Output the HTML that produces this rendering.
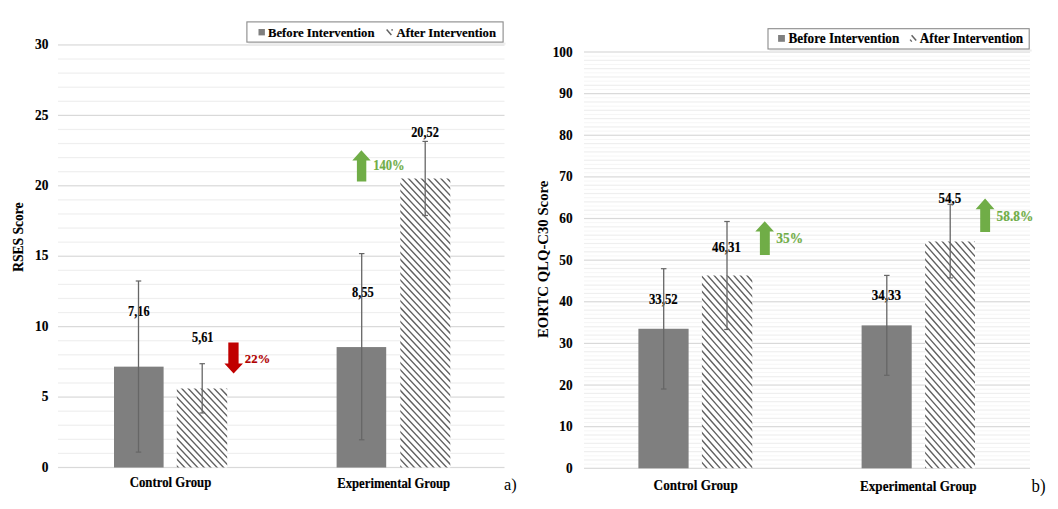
<!DOCTYPE html>
<html><head><meta charset="utf-8"><style>
html,body{margin:0;padding:0;background:#fff;width:1058px;height:509px;overflow:hidden;position:relative}
</style></head><body>
<svg width="1058" height="509" viewBox="0 0 1058 509" style="position:absolute;left:0;top:0">
<defs>
<clipPath id="c0"><rect x="176.8" y="388.48" width="50.4" height="79.02"/></clipPath>
<clipPath id="c1"><rect x="400.3" y="178.48" width="50" height="289.02"/></clipPath>
<clipPath id="c2"><rect x="701.9" y="275.51" width="50.4" height="192.79"/></clipPath>
<clipPath id="c3"><rect x="925.1" y="241.42" width="49.9" height="226.88"/></clipPath>
</defs>
<rect width="1058" height="509" fill="#fff"/>
<g font-family="&quot;Liberation Serif&quot;, serif">
<rect x="58" y="466.9" width="446.5" height="1.2" fill="#d9d9d9"/>
<rect x="58" y="452.81" width="446.5" height="1.2" fill="#efefef"/>
<rect x="58" y="438.73" width="446.5" height="1.2" fill="#efefef"/>
<rect x="58" y="424.64" width="446.5" height="1.2" fill="#efefef"/>
<rect x="58" y="410.56" width="446.5" height="1.2" fill="#efefef"/>
<rect x="58" y="396.47" width="446.5" height="1.2" fill="#d9d9d9"/>
<rect x="58" y="382.39" width="446.5" height="1.2" fill="#efefef"/>
<rect x="58" y="368.3" width="446.5" height="1.2" fill="#efefef"/>
<rect x="58" y="354.22" width="446.5" height="1.2" fill="#efefef"/>
<rect x="58" y="340.13" width="446.5" height="1.2" fill="#efefef"/>
<rect x="58" y="326.05" width="446.5" height="1.2" fill="#d9d9d9"/>
<rect x="58" y="311.96" width="446.5" height="1.2" fill="#efefef"/>
<rect x="58" y="297.88" width="446.5" height="1.2" fill="#efefef"/>
<rect x="58" y="283.79" width="446.5" height="1.2" fill="#efefef"/>
<rect x="58" y="269.71" width="446.5" height="1.2" fill="#efefef"/>
<rect x="58" y="255.63" width="446.5" height="1.2" fill="#d9d9d9"/>
<rect x="58" y="241.54" width="446.5" height="1.2" fill="#efefef"/>
<rect x="58" y="227.45" width="446.5" height="1.2" fill="#efefef"/>
<rect x="58" y="213.37" width="446.5" height="1.2" fill="#efefef"/>
<rect x="58" y="199.28" width="446.5" height="1.2" fill="#efefef"/>
<rect x="58" y="185.2" width="446.5" height="1.2" fill="#d9d9d9"/>
<rect x="58" y="171.11" width="446.5" height="1.2" fill="#efefef"/>
<rect x="58" y="157.03" width="446.5" height="1.2" fill="#efefef"/>
<rect x="58" y="142.94" width="446.5" height="1.2" fill="#efefef"/>
<rect x="58" y="128.86" width="446.5" height="1.2" fill="#efefef"/>
<rect x="58" y="114.78" width="446.5" height="1.2" fill="#d9d9d9"/>
<rect x="58" y="100.69" width="446.5" height="1.2" fill="#efefef"/>
<rect x="58" y="86.6" width="446.5" height="1.2" fill="#efefef"/>
<rect x="58" y="72.52" width="446.5" height="1.2" fill="#efefef"/>
<rect x="58" y="58.43" width="446.5" height="1.2" fill="#efefef"/>
<rect x="58" y="44.35" width="446.5" height="1.2" fill="#d9d9d9"/>
<text transform="translate(48.4,471.7) scale(1,1.07)" font-size="13.4" text-anchor="end" fill="#000" font-weight="bold" stroke="#000" stroke-width="0.15" >0</text>
<text transform="translate(48.4,401.27) scale(1,1.07)" font-size="13.4" text-anchor="end" fill="#000" font-weight="bold" stroke="#000" stroke-width="0.15" >5</text>
<text transform="translate(48.4,330.85) scale(1,1.07)" font-size="13.4" text-anchor="end" fill="#000" font-weight="bold" stroke="#000" stroke-width="0.15" >10</text>
<text transform="translate(48.4,260.43) scale(1,1.07)" font-size="13.4" text-anchor="end" fill="#000" font-weight="bold" stroke="#000" stroke-width="0.15" >15</text>
<text transform="translate(48.4,190) scale(1,1.07)" font-size="13.4" text-anchor="end" fill="#000" font-weight="bold" stroke="#000" stroke-width="0.15" >20</text>
<text transform="translate(48.4,119.58) scale(1,1.07)" font-size="13.4" text-anchor="end" fill="#000" font-weight="bold" stroke="#000" stroke-width="0.15" >25</text>
<text transform="translate(48.4,49.15) scale(1,1.07)" font-size="13.4" text-anchor="end" fill="#000" font-weight="bold" stroke="#000" stroke-width="0.15" >30</text>
<rect x="114" y="366.65" width="49.6" height="100.85" fill="#7f7f7f"/>
<rect x="176.8" y="388.48" width="50.4" height="79.02" fill="#fff"/>
<path clip-path="url(#c0)" d="M92.87 383.48L176.46 472.50M99.34 383.48L182.93 472.50M105.82 383.48L189.41 472.50M112.29 383.48L195.88 472.50M118.77 383.48L202.36 472.50M125.24 383.48L208.83 472.50M131.72 383.48L215.31 472.50M138.19 383.48L221.78 472.50M144.67 383.48L228.26 472.50M151.14 383.48L234.73 472.50M157.62 383.48L241.21 472.50M164.09 383.48L247.68 472.50M170.57 383.48L254.16 472.50M177.04 383.48L260.63 472.50M183.52 383.48L267.11 472.50M189.99 383.48L273.58 472.50M196.47 383.48L280.06 472.50M202.94 383.48L286.53 472.50M209.42 383.48L293.01 472.50M215.89 383.48L299.48 472.50M222.37 383.48L305.96 472.50M228.84 383.48L312.43 472.50" stroke="#626262" stroke-width="1.4" fill="none"/>
<rect x="336.6" y="347.07" width="49.6" height="120.43" fill="#7f7f7f"/>
<rect x="400.3" y="178.48" width="50" height="289.02" fill="#fff"/>
<path clip-path="url(#c1)" d="M118.86 173.48L399.66 472.50M125.33 173.48L406.13 472.50M131.81 173.48L412.61 472.50M138.28 173.48L419.08 472.50M144.76 173.48L425.56 472.50M151.23 173.48L432.03 472.50M157.71 173.48L438.51 472.50M164.18 173.48L444.98 472.50M170.66 173.48L451.46 472.50M177.13 173.48L457.93 472.50M183.61 173.48L464.41 472.50M190.08 173.48L470.88 472.50M196.56 173.48L477.36 472.50M203.03 173.48L483.83 472.50M209.51 173.48L490.31 472.50M215.98 173.48L496.78 472.50M222.46 173.48L503.26 472.50M228.93 173.48L509.73 472.50M235.41 173.48L516.21 472.50M241.88 173.48L522.68 472.50M248.36 173.48L529.16 472.50M254.83 173.48L535.63 472.50M261.30 173.48L542.11 472.50M267.78 173.48L548.58 472.50M274.25 173.48L555.06 472.50M280.73 173.48L561.53 472.50M287.20 173.48L568.01 472.50M293.68 173.48L574.48 472.50M300.15 173.48L580.96 472.50M306.63 173.48L587.43 472.50M313.10 173.48L593.91 472.50M319.58 173.48L600.38 472.50M326.05 173.48L606.86 472.50M332.53 173.48L613.33 472.50M339.00 173.48L619.81 472.50M345.48 173.48L626.28 472.50M351.95 173.48L632.76 472.50M358.43 173.48L639.23 472.50M364.90 173.48L645.71 472.50M371.38 173.48L652.18 472.50M377.85 173.48L658.66 472.50M384.33 173.48L665.13 472.50M390.80 173.48L671.61 472.50M397.28 173.48L678.08 472.50M403.75 173.48L684.56 472.50M410.23 173.48L691.03 472.50M416.70 173.48L697.50 472.50M423.18 173.48L703.98 472.50M429.65 173.48L710.45 472.50M436.13 173.48L716.93 472.50M442.60 173.48L723.40 472.50M449.08 173.48L729.88 472.50" stroke="#626262" stroke-width="1.4" fill="none"/>
<text transform="translate(138.8,315.7) scale(1,1.12)" font-size="12.3" text-anchor="middle" fill="#000" font-weight="bold" stroke="#000" stroke-width="0.15" >7,16</text>
<text transform="translate(202.75,341.6) scale(1,1.12)" font-size="12.3" text-anchor="middle" fill="#000" font-weight="bold" stroke="#000" stroke-width="0.15" >5,61</text>
<text transform="translate(362.85,297.3) scale(1,1.12)" font-size="12.5" text-anchor="middle" fill="#000" font-weight="bold" stroke="#000" stroke-width="0.15" >8,55</text>
<text transform="translate(425,136.6) scale(1,1.12)" font-size="12.3" text-anchor="middle" fill="#000" font-weight="bold" stroke="#000" stroke-width="0.15" >20,52</text>
<polygon points="233.6,373.6 243,363.6 238.6,363.6 238.6,342.4 228.3,342.4 228.3,363.6 224.4,363.6" fill="#c00000"/>
<text transform="translate(244.8,363.2) scale(1,1.02)" font-size="12.8" text-anchor="start" fill="#b00000" font-weight="bold" stroke="#b00000" stroke-width="0.15" >22%</text>
<polygon points="361.4,150.3 370.7,160.4 366.3,160.4 366.3,181.5 356.9,181.5 356.9,160.4 352.3,160.4" fill="#70ad47"/>
<text transform="translate(373.2,170.3) scale(1,1.12)" font-size="12.6" text-anchor="start" fill="#70ad47" font-weight="bold" stroke="#70ad47" stroke-width="0.15" >140%</text>
<text transform="translate(170.5,487.1) scale(1,1.12)" font-size="12.8" text-anchor="middle" fill="#000" font-weight="bold" stroke="#000" stroke-width="0.15" >Control Group</text>
<text transform="translate(393.7,487.7) scale(1,1.12)" font-size="12.7" text-anchor="middle" fill="#000" font-weight="bold" stroke="#000" stroke-width="0.15" >Experimental Group</text>
<text x="0" y="0" font-size="16.3" font-weight="normal" text-anchor="start" transform="translate(503.9,489.8)">a)</text>
<text x="0" y="0" font-size="13.5" font-weight="bold" text-anchor="middle" stroke="#000" stroke-width="0.15" transform="translate(23,237.1) rotate(-90) scale(1,1.07)">RSES Score</text>
<rect x="248.4" y="42.6" width="257.2" height="2" fill="#eeeeee"/>
<rect x="246.9" y="21.9" width="256.2" height="20.2" fill="#fff" stroke="#8a8a8a" stroke-width="1.1"/>
<rect x="258.5" y="29" width="6.4" height="6.4" fill="#7f7f7f"/>
<text transform="translate(268,36.8) scale(1,1.04)" font-size="12.7" text-anchor="start" fill="#000" font-weight="bold" stroke="#000" stroke-width="0.15" >Before Intervention</text>
<line x1="386.6" y1="29.6" x2="391.4" y2="35" stroke="#626262" stroke-width="1.5"/><rect x="391.3" y="29.2" width="1.6" height="1.4" fill="#626262"/>
<text transform="translate(396.5,36.8) scale(1,1.04)" font-size="12.7" text-anchor="start" fill="#000" font-weight="bold" stroke="#000" stroke-width="0.15" >After Intervention</text>
<rect x="584" y="463.64" width="446" height="1" fill="#f6f6f6"/>
<rect x="584" y="455.31" width="446" height="1" fill="#f6f6f6"/>
<rect x="584" y="446.99" width="446" height="1" fill="#f6f6f6"/>
<rect x="584" y="438.66" width="446" height="1" fill="#f6f6f6"/>
<rect x="584" y="430.33" width="446" height="1" fill="#f6f6f6"/>
<rect x="584" y="422.01" width="446" height="1" fill="#f6f6f6"/>
<rect x="584" y="413.68" width="446" height="1" fill="#f6f6f6"/>
<rect x="584" y="405.36" width="446" height="1" fill="#f6f6f6"/>
<rect x="584" y="397.03" width="446" height="1" fill="#f6f6f6"/>
<rect x="584" y="388.7" width="446" height="1" fill="#f6f6f6"/>
<rect x="584" y="380.38" width="446" height="1" fill="#f6f6f6"/>
<rect x="584" y="372.05" width="446" height="1" fill="#f6f6f6"/>
<rect x="584" y="363.73" width="446" height="1" fill="#f6f6f6"/>
<rect x="584" y="355.4" width="446" height="1" fill="#f6f6f6"/>
<rect x="584" y="347.07" width="446" height="1" fill="#f6f6f6"/>
<rect x="584" y="338.75" width="446" height="1" fill="#f6f6f6"/>
<rect x="584" y="330.42" width="446" height="1" fill="#f6f6f6"/>
<rect x="584" y="322.1" width="446" height="1" fill="#f6f6f6"/>
<rect x="584" y="313.77" width="446" height="1" fill="#f6f6f6"/>
<rect x="584" y="305.44" width="446" height="1" fill="#f6f6f6"/>
<rect x="584" y="297.12" width="446" height="1" fill="#f6f6f6"/>
<rect x="584" y="288.79" width="446" height="1" fill="#f6f6f6"/>
<rect x="584" y="280.47" width="446" height="1" fill="#f6f6f6"/>
<rect x="584" y="272.14" width="446" height="1" fill="#f6f6f6"/>
<rect x="584" y="263.81" width="446" height="1" fill="#f6f6f6"/>
<rect x="584" y="255.49" width="446" height="1" fill="#f6f6f6"/>
<rect x="584" y="247.16" width="446" height="1" fill="#f6f6f6"/>
<rect x="584" y="238.84" width="446" height="1" fill="#f6f6f6"/>
<rect x="584" y="230.51" width="446" height="1" fill="#f6f6f6"/>
<rect x="584" y="222.18" width="446" height="1" fill="#f6f6f6"/>
<rect x="584" y="213.86" width="446" height="1" fill="#f6f6f6"/>
<rect x="584" y="205.53" width="446" height="1" fill="#f6f6f6"/>
<rect x="584" y="197.2" width="446" height="1" fill="#f6f6f6"/>
<rect x="584" y="188.88" width="446" height="1" fill="#f6f6f6"/>
<rect x="584" y="180.55" width="446" height="1" fill="#f6f6f6"/>
<rect x="584" y="172.23" width="446" height="1" fill="#f6f6f6"/>
<rect x="584" y="163.9" width="446" height="1" fill="#f6f6f6"/>
<rect x="584" y="155.57" width="446" height="1" fill="#f6f6f6"/>
<rect x="584" y="147.25" width="446" height="1" fill="#f6f6f6"/>
<rect x="584" y="138.92" width="446" height="1" fill="#f6f6f6"/>
<rect x="584" y="130.6" width="446" height="1" fill="#f6f6f6"/>
<rect x="584" y="122.27" width="446" height="1" fill="#f6f6f6"/>
<rect x="584" y="113.94" width="446" height="1" fill="#f6f6f6"/>
<rect x="584" y="105.62" width="446" height="1" fill="#f6f6f6"/>
<rect x="584" y="97.29" width="446" height="1" fill="#f6f6f6"/>
<rect x="584" y="88.97" width="446" height="1" fill="#f6f6f6"/>
<rect x="584" y="80.64" width="446" height="1" fill="#f6f6f6"/>
<rect x="584" y="72.31" width="446" height="1" fill="#f6f6f6"/>
<rect x="584" y="63.99" width="446" height="1" fill="#f6f6f6"/>
<rect x="584" y="55.66" width="446" height="1" fill="#f6f6f6"/>
<rect x="584" y="467.7" width="446" height="1.2" fill="#d9d9d9"/>
<rect x="584" y="459.37" width="446" height="1.2" fill="#efefef"/>
<rect x="584" y="451.05" width="446" height="1.2" fill="#efefef"/>
<rect x="584" y="442.72" width="446" height="1.2" fill="#efefef"/>
<rect x="584" y="434.4" width="446" height="1.2" fill="#efefef"/>
<rect x="584" y="426.07" width="446" height="1.2" fill="#d9d9d9"/>
<rect x="584" y="417.74" width="446" height="1.2" fill="#efefef"/>
<rect x="584" y="409.42" width="446" height="1.2" fill="#efefef"/>
<rect x="584" y="401.09" width="446" height="1.2" fill="#efefef"/>
<rect x="584" y="392.77" width="446" height="1.2" fill="#efefef"/>
<rect x="584" y="384.44" width="446" height="1.2" fill="#d9d9d9"/>
<rect x="584" y="376.11" width="446" height="1.2" fill="#efefef"/>
<rect x="584" y="367.79" width="446" height="1.2" fill="#efefef"/>
<rect x="584" y="359.46" width="446" height="1.2" fill="#efefef"/>
<rect x="584" y="351.14" width="446" height="1.2" fill="#efefef"/>
<rect x="584" y="342.81" width="446" height="1.2" fill="#d9d9d9"/>
<rect x="584" y="334.48" width="446" height="1.2" fill="#efefef"/>
<rect x="584" y="326.16" width="446" height="1.2" fill="#efefef"/>
<rect x="584" y="317.83" width="446" height="1.2" fill="#efefef"/>
<rect x="584" y="309.51" width="446" height="1.2" fill="#efefef"/>
<rect x="584" y="301.18" width="446" height="1.2" fill="#d9d9d9"/>
<rect x="584" y="292.85" width="446" height="1.2" fill="#efefef"/>
<rect x="584" y="284.53" width="446" height="1.2" fill="#efefef"/>
<rect x="584" y="276.2" width="446" height="1.2" fill="#efefef"/>
<rect x="584" y="267.88" width="446" height="1.2" fill="#efefef"/>
<rect x="584" y="259.55" width="446" height="1.2" fill="#d9d9d9"/>
<rect x="584" y="251.22" width="446" height="1.2" fill="#efefef"/>
<rect x="584" y="242.9" width="446" height="1.2" fill="#efefef"/>
<rect x="584" y="234.57" width="446" height="1.2" fill="#efefef"/>
<rect x="584" y="226.25" width="446" height="1.2" fill="#efefef"/>
<rect x="584" y="217.92" width="446" height="1.2" fill="#d9d9d9"/>
<rect x="584" y="209.59" width="446" height="1.2" fill="#efefef"/>
<rect x="584" y="201.27" width="446" height="1.2" fill="#efefef"/>
<rect x="584" y="192.94" width="446" height="1.2" fill="#efefef"/>
<rect x="584" y="184.62" width="446" height="1.2" fill="#efefef"/>
<rect x="584" y="176.29" width="446" height="1.2" fill="#d9d9d9"/>
<rect x="584" y="167.96" width="446" height="1.2" fill="#efefef"/>
<rect x="584" y="159.64" width="446" height="1.2" fill="#efefef"/>
<rect x="584" y="151.31" width="446" height="1.2" fill="#efefef"/>
<rect x="584" y="142.99" width="446" height="1.2" fill="#efefef"/>
<rect x="584" y="134.66" width="446" height="1.2" fill="#d9d9d9"/>
<rect x="584" y="126.33" width="446" height="1.2" fill="#efefef"/>
<rect x="584" y="118.01" width="446" height="1.2" fill="#efefef"/>
<rect x="584" y="109.68" width="446" height="1.2" fill="#efefef"/>
<rect x="584" y="101.36" width="446" height="1.2" fill="#efefef"/>
<rect x="584" y="93.03" width="446" height="1.2" fill="#d9d9d9"/>
<rect x="584" y="84.7" width="446" height="1.2" fill="#efefef"/>
<rect x="584" y="76.38" width="446" height="1.2" fill="#efefef"/>
<rect x="584" y="68.05" width="446" height="1.2" fill="#efefef"/>
<rect x="584" y="59.73" width="446" height="1.2" fill="#efefef"/>
<rect x="584" y="51.4" width="446" height="1.2" fill="#d9d9d9"/>
<text transform="translate(572.6,472.9) scale(1,1.07)" font-size="13.3" text-anchor="end" fill="#000" font-weight="bold" stroke="#000" stroke-width="0.15" >0</text>
<text transform="translate(572.6,431.27) scale(1,1.07)" font-size="13.3" text-anchor="end" fill="#000" font-weight="bold" stroke="#000" stroke-width="0.15" >10</text>
<text transform="translate(572.6,389.64) scale(1,1.07)" font-size="13.3" text-anchor="end" fill="#000" font-weight="bold" stroke="#000" stroke-width="0.15" >20</text>
<text transform="translate(572.6,348.01) scale(1,1.07)" font-size="13.3" text-anchor="end" fill="#000" font-weight="bold" stroke="#000" stroke-width="0.15" >30</text>
<text transform="translate(572.6,306.38) scale(1,1.07)" font-size="13.3" text-anchor="end" fill="#000" font-weight="bold" stroke="#000" stroke-width="0.15" >40</text>
<text transform="translate(572.6,264.75) scale(1,1.07)" font-size="13.3" text-anchor="end" fill="#000" font-weight="bold" stroke="#000" stroke-width="0.15" >50</text>
<text transform="translate(572.6,223.12) scale(1,1.07)" font-size="13.3" text-anchor="end" fill="#000" font-weight="bold" stroke="#000" stroke-width="0.15" >60</text>
<text transform="translate(572.6,181.49) scale(1,1.07)" font-size="13.3" text-anchor="end" fill="#000" font-weight="bold" stroke="#000" stroke-width="0.15" >70</text>
<text transform="translate(572.6,139.86) scale(1,1.07)" font-size="13.3" text-anchor="end" fill="#000" font-weight="bold" stroke="#000" stroke-width="0.15" >80</text>
<text transform="translate(572.6,98.23) scale(1,1.07)" font-size="13.3" text-anchor="end" fill="#000" font-weight="bold" stroke="#000" stroke-width="0.15" >90</text>
<text transform="translate(572.6,56.6) scale(1,1.07)" font-size="13.3" text-anchor="end" fill="#000" font-weight="bold" stroke="#000" stroke-width="0.15" >100</text>
<rect x="638.4" y="328.76" width="50.2" height="139.54" fill="#7f7f7f"/>
<rect x="701.9" y="275.51" width="50.4" height="192.79" fill="#fff"/>
<path clip-path="url(#c2)" d="M526.11 270.51L704.90 473.30M532.67 270.51L711.45 473.30M539.23 270.51L718.01 473.30M545.79 270.51L724.57 473.30M552.35 270.51L731.13 473.30M558.91 270.51L737.69 473.30M565.47 270.51L744.25 473.30M572.03 270.51L750.81 473.30M578.59 270.51L757.37 473.30M585.14 270.51L763.93 473.30M591.70 270.51L770.49 473.30M598.26 270.51L777.04 473.30M604.82 270.51L783.60 473.30M611.38 270.51L790.16 473.30M617.94 270.51L796.72 473.30M624.50 270.51L803.28 473.30M631.06 270.51L809.84 473.30M637.62 270.51L816.40 473.30M644.18 270.51L822.96 473.30M650.73 270.51L829.52 473.30M657.29 270.51L836.08 473.30M663.85 270.51L842.63 473.30M670.41 270.51L849.19 473.30M676.97 270.51L855.75 473.30M683.53 270.51L862.31 473.30M690.09 270.51L868.87 473.30M696.65 270.51L875.43 473.30M703.21 270.51L881.99 473.30M709.77 270.51L888.55 473.30M716.32 270.51L895.11 473.30M722.88 270.51L901.67 473.30M729.44 270.51L908.23 473.30M736.00 270.51L914.78 473.30M742.56 270.51L921.34 473.30M749.12 270.51L927.90 473.30" stroke="#626262" stroke-width="1.4" fill="none"/>
<rect x="861.6" y="325.38" width="50.1" height="142.92" fill="#7f7f7f"/>
<rect x="925.1" y="241.42" width="49.9" height="226.88" fill="#fff"/>
<path clip-path="url(#c3)" d="M714.80 236.42L923.64 473.30M721.35 236.42L930.20 473.30M727.91 236.42L936.75 473.30M734.47 236.42L943.31 473.30M741.03 236.42L949.87 473.30M747.59 236.42L956.43 473.30M754.15 236.42L962.99 473.30M760.71 236.42L969.55 473.30M767.27 236.42L976.11 473.30M773.83 236.42L982.67 473.30M780.39 236.42L989.23 473.30M786.94 236.42L995.79 473.30M793.50 236.42L1002.34 473.30M800.06 236.42L1008.90 473.30M806.62 236.42L1015.46 473.30M813.18 236.42L1022.02 473.30M819.74 236.42L1028.58 473.30M826.30 236.42L1035.14 473.30M832.86 236.42L1041.70 473.30M839.42 236.42L1048.26 473.30M845.98 236.42L1054.82 473.30M852.53 236.42L1061.38 473.30M859.09 236.42L1067.93 473.30M865.65 236.42L1074.49 473.30M872.21 236.42L1081.05 473.30M878.77 236.42L1087.61 473.30M885.33 236.42L1094.17 473.30M891.89 236.42L1100.73 473.30M898.45 236.42L1107.29 473.30M905.01 236.42L1113.85 473.30M911.57 236.42L1120.41 473.30M918.13 236.42L1126.97 473.30M924.68 236.42L1133.53 473.30M931.24 236.42L1140.08 473.30M937.80 236.42L1146.64 473.30M944.36 236.42L1153.20 473.30M950.92 236.42L1159.76 473.30M957.48 236.42L1166.32 473.30M964.04 236.42L1172.88 473.30M970.60 236.42L1179.44 473.30M977.16 236.42L1186.00 473.30" stroke="#626262" stroke-width="1.4" fill="none"/>
<text transform="translate(663.35,303.6) scale(1,1.12)" font-size="12.8" text-anchor="middle" fill="#000" font-weight="bold" stroke="#000" stroke-width="0.15" >33,52</text>
<text transform="translate(726.4,251.5) scale(1,1.12)" font-size="12.8" text-anchor="middle" fill="#000" font-weight="bold" stroke="#000" stroke-width="0.15" >46,31</text>
<text transform="translate(886.35,300.3) scale(1,1.12)" font-size="13" text-anchor="middle" fill="#000" font-weight="bold" stroke="#000" stroke-width="0.15" >34,33</text>
<text transform="translate(949.85,202.9) scale(1,1.12)" font-size="13" text-anchor="middle" fill="#000" font-weight="bold" stroke="#000" stroke-width="0.15" >54,5</text>
<polygon points="764.7,221.3 774,231.6 769.8,231.6 769.8,254.9 759.9,254.9 759.9,231.6 755.3,231.6" fill="#70ad47"/>
<text transform="translate(776.3,243.3) scale(1,1.12)" font-size="13.4" text-anchor="start" fill="#70ad47" font-weight="bold" stroke="#70ad47" stroke-width="0.15" >35%</text>
<polygon points="985.1,198.4 994.5,209.2 990.1,209.2 990.1,232.1 980.2,232.1 980.2,209.2 975.6,209.2" fill="#70ad47"/>
<text transform="translate(996.5,220.6) scale(1,1.12)" font-size="13.4" text-anchor="start" fill="#70ad47" font-weight="bold" stroke="#70ad47" stroke-width="0.15" >58.8%</text>
<text transform="translate(695.7,490.1) scale(1,1.12)" font-size="13.2" text-anchor="middle" fill="#000" font-weight="bold" stroke="#000" stroke-width="0.15" >Control Group</text>
<text transform="translate(918.3,490.5) scale(1,1.12)" font-size="13.1" text-anchor="middle" fill="#000" font-weight="bold" stroke="#000" stroke-width="0.15" >Experimental Group</text>
<text x="0" y="0" font-size="16.8" font-weight="normal" text-anchor="start" transform="translate(1031.6,492) scale(1,1.07)">b)</text>
<text x="0" y="0" font-size="14.75" font-weight="bold" text-anchor="middle" transform="translate(548,259.3) rotate(-90)">EORTC QLQ-C30 Score</text>
<rect x="769.5" y="49.5" width="262.2" height="2" fill="#eeeeee"/>
<rect x="768" y="28.7" width="261.2" height="20.3" fill="#fff" stroke="#8a8a8a" stroke-width="1.1"/>
<rect x="778.1" y="35" width="6.8" height="6.8" fill="#7f7f7f"/>
<text transform="translate(788.5,42.8) scale(1,1.07)" font-size="13.2" text-anchor="start" fill="#000" font-weight="bold" stroke="#000" stroke-width="0.15" >Before Intervention</text>
<line x1="911.6" y1="35.2" x2="916.2" y2="40.4" stroke="#626262" stroke-width="1.5"/><line x1="910.1" y1="39.6" x2="911.8" y2="41.6" stroke="#626262" stroke-width="1.4"/>
<text transform="translate(919.8,42.8) scale(1,1.07)" font-size="13.2" text-anchor="start" fill="#000" font-weight="bold" stroke="#000" stroke-width="0.15" >After Intervention</text>
<rect x="137.85" y="281" width="1.3" height="171.1" fill="#666666"/>
<rect x="135.75" y="280.4" width="5.5" height="1.2" fill="#666666"/>
<rect x="135.75" y="451.5" width="5.5" height="1.2" fill="#666666"/>
<rect x="201.55" y="363.7" width="1.3" height="49.3" fill="#666666"/>
<rect x="199.45" y="363.1" width="5.5" height="1.2" fill="#666666"/>
<rect x="199.45" y="412.4" width="5.5" height="1.2" fill="#666666"/>
<rect x="361.05" y="253.6" width="1.3" height="186.2" fill="#666666"/>
<rect x="358.95" y="253" width="5.5" height="1.2" fill="#666666"/>
<rect x="358.95" y="439.2" width="5.5" height="1.2" fill="#666666"/>
<rect x="424.55" y="141.4" width="1.3" height="74.1" fill="#666666"/>
<rect x="422.45" y="140.8" width="5.5" height="1.2" fill="#666666"/>
<rect x="422.45" y="214.9" width="5.5" height="1.2" fill="#666666"/>
<rect x="663.05" y="268.7" width="1.3" height="120.3" fill="#666666"/>
<rect x="660.95" y="268.1" width="5.5" height="1.2" fill="#666666"/>
<rect x="660.95" y="388.4" width="5.5" height="1.2" fill="#666666"/>
<rect x="726.35" y="221.5" width="1.3" height="108" fill="#666666"/>
<rect x="724.25" y="220.9" width="5.5" height="1.2" fill="#666666"/>
<rect x="724.25" y="328.9" width="5.5" height="1.2" fill="#666666"/>
<rect x="886.15" y="275.4" width="1.3" height="99.9" fill="#666666"/>
<rect x="884.05" y="274.8" width="5.5" height="1.2" fill="#666666"/>
<rect x="884.05" y="374.7" width="5.5" height="1.2" fill="#666666"/>
<rect x="949.55" y="204.3" width="1.3" height="73.6" fill="#666666"/>
<rect x="947.45" y="203.7" width="5.5" height="1.2" fill="#666666"/>
<rect x="947.45" y="277.3" width="5.5" height="1.2" fill="#666666"/>
</g></svg>
</body></html>
